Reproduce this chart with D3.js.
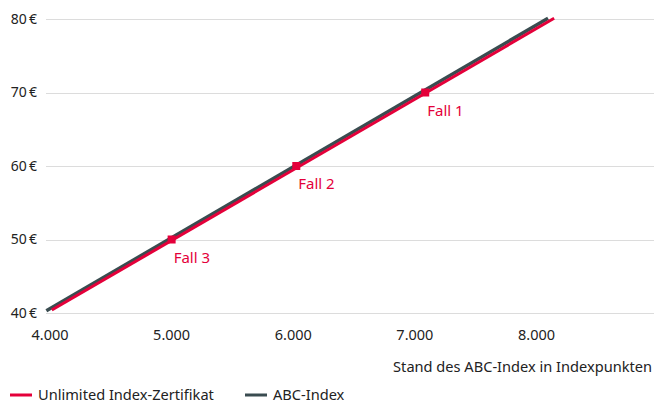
<!DOCTYPE html>
<html>
<head>
<meta charset="utf-8">
<script src="https://cdn.jsdelivr.net/npm/d3@7"></script>
<style>
  body { margin: 0; background: #fff; }
  svg { display: block; font-family: "Noto Sans", sans-serif; }
</style>
</head>
<body>
<svg width="654" height="403"></svg>
<script>
// values
const xTicks = [4000, 5000, 6000, 7000, 8000]
const yTicks = [40, 50, 60, 70, 80]
const indexLine = [[3970, 40.3], [8095, 80.1]]
const certLine = [[4015, 40.4], [8145, 80.1]]
const caseX = [7085, 6025, 5000]
const caseY = [70, 60, 50]
const caseNames = ['Fall 1', 'Fall 2', 'Fall 3']
const seriesNames = ['Unlimited Index-Zertifikat', 'ABC-Index']

const red = '#e4003a',
    dark = '#3a4c50',
    textColor = '#222'

const svg = d3.select('svg')

const xScale = d3.scaleLinear().domain([4000, 8000]).range([50, 536.5])
const yScale = d3.scaleLinear().domain([40, 80]).range([313, 19])

const deFormat = d => d3.format(',')(d).replace(',', '.')

//grid + y labels
const yAxis = svg.append('g')
yAxis.selectAll('line')
    .data(yTicks)
    .enter().append('line')
    .attr('x1', 46)
    .attr('x2', 654)
    .attr('y1', d => Math.round(yScale(d)) + 0.5)
    .attr('y2', d => Math.round(yScale(d)) + 0.5)
    .attr('stroke', '#dcdcdc')
yAxis.selectAll('text')
    .data(yTicks)
    .enter().append('text')
    .text(d => d + '\u2009€')
    .attr('x', 37)
    .attr('y', d => yScale(d))
    .attr('dy', '.35em')
    .attr('text-anchor', 'end')
    .attr('font-size', 14)
    .attr('fill', textColor)

//x labels
svg.append('g').selectAll('text')
    .data(xTicks)
    .enter().append('text')
    .text(deFormat)
    .attr('x', d => xScale(d))
    .attr('y', 340)
    .attr('text-anchor', 'middle')
    .attr('font-size', 14.5)
    .attr('fill', textColor)

svg.append('text')
    .text('Stand des ABC-Index in Indexpunkten')
    .attr('x', 652)
    .attr('y', 372)
    .attr('text-anchor', 'end')
    .attr('font-size', 14.6)
    .attr('fill', textColor)

//lines
const line = d3.line()
    .x(d => xScale(d[0]))
    .y(d => yScale(d[1]))

svg.append('path')
    .datum(indexLine)
    .attr('d', line)
    .attr('fill', 'none')
    .attr('stroke', dark)
    .attr('stroke-width', 3.5)
svg.append('path')
    .datum(certLine)
    .attr('d', line)
    .attr('fill', 'none')
    .attr('stroke', red)
    .attr('stroke-width', 3)

//cases
const cases = svg.selectAll('.case')
    .data(caseNames.map((n, i) => ({ name: n, x: caseX[i], y: caseY[i] })))
    .enter().append('g')
    .attr('class', 'case')
cases.append('rect')
    .attr('x', d => xScale(d.x) - 4)
    .attr('y', d => yScale(d.y) - 4)
    .attr('width', 8)
    .attr('height', 8)
    .attr('fill', red)
cases.append('text')
    .text(d => d.name)
    .attr('x', d => xScale(d.x) + 2)
    .attr('y', d => yScale(d.y) + 18)
    .attr('dy', '.35em')
    .attr('font-size', 15)
    .attr('fill', red)

//legend
const legend = svg.append('g').attr('transform', 'translate(0,395)')
const legendX = [10, 245]
const legendColors = [red, dark]
seriesNames.forEach((name, i) => {
    legend.append('line')
        .attr('x1', legendX[i])
        .attr('x2', legendX[i] + 22)
        .attr('stroke', legendColors[i])
        .attr('stroke-width', 3)
    legend.append('text')
        .text(name)
        .attr('x', legendX[i] + 28)
        .attr('dy', '.35em')
        .attr('font-size', 14.6)
        .attr('fill', textColor)
})
</script>
</body>
</html>
